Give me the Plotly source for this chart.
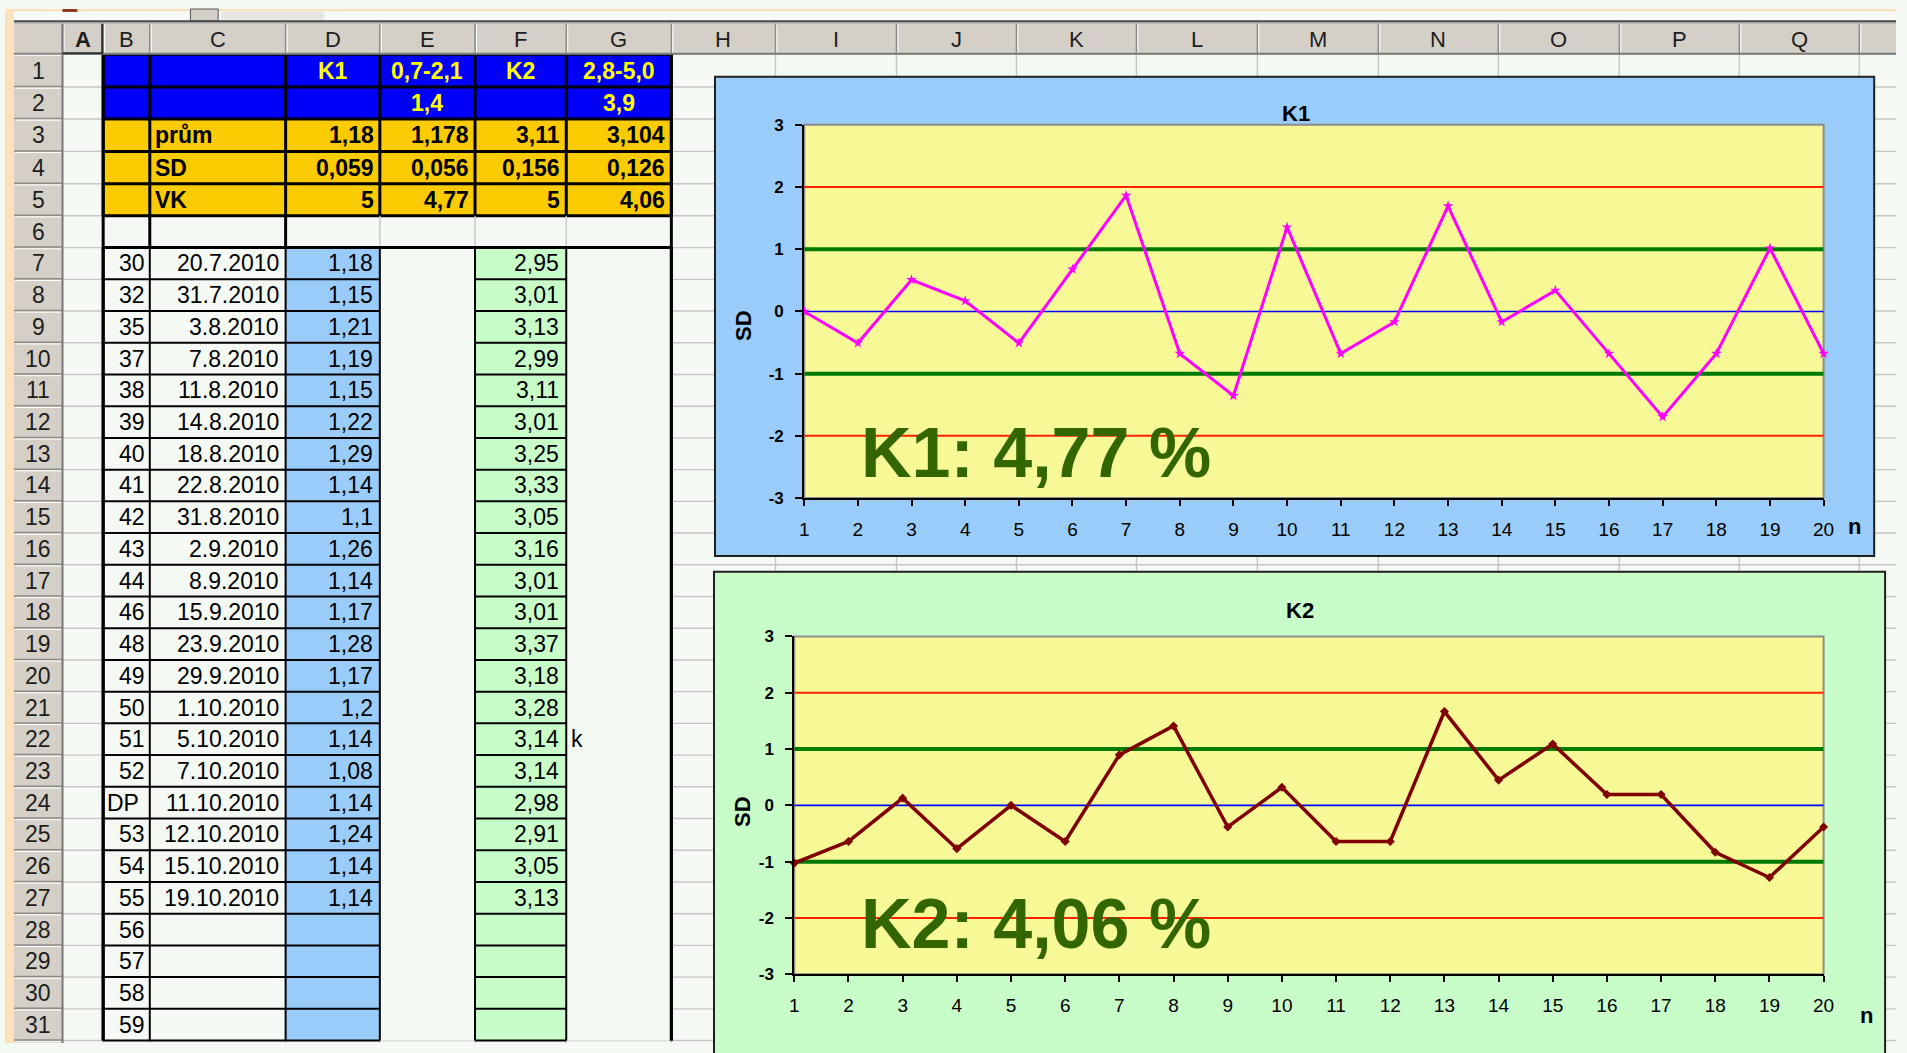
import plotly.graph_objects as go

W, H = 1907, 1053

# ---------------- data ----------------
COLUMN_LETTERS = ["A", "B", "C", "D", "E", "F", "G", "H", "I", "J",
                  "K", "L", "M", "N", "O", "P", "Q", "R"]
HEADER_ROW1 = ["", "", "K1", "0,7-2,1", "K2", "2,8-5,0"]   # columns B..G
HEADER_ROW2 = ["", "", "", "1,4", "", "3,9"]
STAT_LABELS = ["prům", "SD", "VK"]
K1_TARGET = [1.18, 0.059, 5]
K1_ACTUAL = [1.178, 0.056, 4.77]
K2_TARGET = [3.11, 0.156, 5]
K2_ACTUAL = [3.104, 0.126, 4.06]

SAMPLE_IDS = ["30", "32", "35", "37", "38", "39", "40", "41", "42", "43", "44",
              "46", "48", "49", "50", "51", "52", "DP", "53", "54", "55",
              "56", "57", "58", "59"]
DATES = ["20.7.2010", "31.7.2010", "3.8.2010", "7.8.2010", "11.8.2010",
         "14.8.2010", "18.8.2010", "22.8.2010", "31.8.2010", "2.9.2010",
         "8.9.2010", "15.9.2010", "23.9.2010", "29.9.2010", "1.10.2010",
         "5.10.2010", "7.10.2010", "11.10.2010", "12.10.2010", "15.10.2010",
         "19.10.2010"]
K1_VALUES = [1.18, 1.15, 1.21, 1.19, 1.15, 1.22, 1.29, 1.14, 1.1, 1.26, 1.14,
             1.17, 1.28, 1.17, 1.2, 1.14, 1.08, 1.14, 1.24, 1.14, 1.14]
K2_VALUES = [2.95, 3.01, 3.13, 2.99, 3.11, 3.01, 3.25, 3.33, 3.05, 3.16, 3.01,
             3.01, 3.37, 3.18, 3.28, 3.14, 3.14, 2.98, 2.91, 3.05, 3.13]
NOTE_ROW22 = "k"

N_PLOTTED = 20
SD_LEVELS = [2, 1, 0, -1, -2]
Y_TICKS = [-3, -2, -1, 0, 1, 2, 3]


def fmt(v):
    return f"{v:g}".replace(".", ",")


n = list(range(1, N_PLOTTED + 1))
k1_sd = [(v - K1_TARGET[0]) / K1_TARGET[1] for v in K1_VALUES[:N_PLOTTED]]
k2_sd = [(v - K2_TARGET[0]) / K2_TARGET[1] for v in K2_VALUES[:N_PLOTTED]]

# ---------------- sheet geometry (pixels) ----------------
COL_EDGES = [58, 99, 146, 283, 378, 474, 566, 672, 777, 899, 1020, 1141,
             1263, 1385, 1506, 1628, 1749, 1870, 1992]
ROW_EDGES = [46, 79.5, 112, 145, 178, 210.5, 243] + [243 + 32.3 * k for k in range(1, 26)]

SHEET_BG = "#F5F9F3"
HEAD_GRAY = "#D4D0C8"
PEACH = "#FBE2BA"
BLUE_CELL = "#99CCF9"
GREEN_CELL = "#C8FCC8"
GOLD = "#FACB00"
ROYAL = "#0000F8"
PLOT_YELLOW = "#F7F997"
SHEET_FONT = "Liberation Sans, Arial, sans-serif"
HEAD_FONT = "Liberation Sans Narrow, Liberation Sans, Arial, sans-serif"


def X(p):
    return p / W


def Y(p):
    return 1 - p / H


shapes = []
annots = []


def box(x0, y0, x1, y1, fill, lc=None, lw=0):
    shapes.append(dict(type="rect", xref="paper", yref="paper",
                       x0=X(x0), x1=X(x1), y0=Y(y1), y1=Y(y0),
                       fillcolor=fill, line=dict(color=lc or fill, width=lw),
                       layer="below"))


def seg(x0, y0, x1, y1, color, width):
    shapes.append(dict(type="line", xref="paper", yref="paper",
                       x0=X(x0), x1=X(x1), y0=Y(y0), y1=Y(y1),
                       line=dict(color=color, width=width), layer="below"))


def label(x, y, s, size, color="#000000", bold=False, anchor="center",
          family=SHEET_FONT, angle=0):
    annots.append(dict(xref="paper", yref="paper", x=X(x), y=Y(y),
                       text=f"<b>{s}</b>" if bold else s, showarrow=False,
                       xanchor=anchor, yanchor="middle", textangle=angle,
                       borderpad=0,
                       font=dict(family=family, size=size, color=color)))


def row_mid(r):
    return (ROW_EDGES[r - 1] + ROW_EDGES[r]) / 2


def col_left(c):
    return COL_EDGES[c]


def col_right(c):
    return COL_EDGES[c + 1]


# sheet gridlines
for xe in COL_EDGES:
    seg(xe, 46, xe, H, "#C6C6C6", 1.4)
for ye in ROW_EDGES:
    seg(58, ye, W, ye, "#C6C6C6", 1.4)

# ---- coloured table block B..G ----
B_L, G_R = COL_EDGES[1], COL_EDGES[7]
box(B_L, ROW_EDGES[0], G_R, ROW_EDGES[2], ROYAL)
box(B_L, ROW_EDGES[2], G_R, ROW_EDGES[5], GOLD)
box(B_L, ROW_EDGES[5], G_R, ROW_EDGES[6], SHEET_BG)
last = ROW_EDGES[-1]
box(col_left(1), ROW_EDGES[6], col_right(2), last, SHEET_BG)
box(col_left(3), ROW_EDGES[6], col_right(3), last, BLUE_CELL)
box(col_left(4), ROW_EDGES[6], col_right(4), last, SHEET_BG)
box(col_left(5), ROW_EDGES[6], col_right(5), last, GREEN_CELL)
box(col_left(6), ROW_EDGES[6], col_right(6), last, SHEET_BG)

# borders rows 1-5
for r in range(0, 6):
    seg(B_L, ROW_EDGES[r], G_R, ROW_EDGES[r], "#000000", 3)
for c in range(1, 8):
    seg(COL_EDGES[c], ROW_EDGES[0], COL_EDGES[c], ROW_EDGES[5], "#000000", 3)
# row 6
for c in (4, 5, 6):
    seg(COL_EDGES[c], ROW_EDGES[5], COL_EDGES[c], ROW_EDGES[6], "#C6C6C6", 1.4)
for c in (2, 3):
    seg(COL_EDGES[c], ROW_EDGES[5], COL_EDGES[c], ROW_EDGES[6], "#000000", 3)
seg(B_L, ROW_EDGES[6], G_R, ROW_EDGES[6], "#000000", 3)
# data rows
for r in range(7, 32):
    ye = ROW_EDGES[r]
    seg(col_left(1), ye, col_right(3), ye, "#000000", 2)
    seg(col_left(5), ye, col_right(5), ye, "#000000", 2)
for c, wdt in ((1, 3), (2, 2), (3, 2), (4, 2), (5, 2), (6, 2), (7, 3)):
    seg(COL_EDGES[c], ROW_EDGES[6], COL_EDGES[c], last, "#000000", wdt)
seg(B_L, ROW_EDGES[0], B_L, last, "#000000", 3)
seg(G_R, ROW_EDGES[0], G_R, last, "#000000", 3)

# ---- window chrome and headers ----
box(0, 0, W, 2.5, PEACH)
box(9, 2.5, W, 11.5, "#F8FAF6")
box(187, 0, 215, 12, HEAD_GRAY, "#555555", 1)
box(218, 2.5, 322, 11, "#E6E6E1")
box(58, 0, 73, 3, "#8B3A1A")
box(9, 11.5, W, 13.2, "#4A4A4A")
box(9, 13.2, W, 15, "#A0A0A0")
box(9, 15, W, 46, HEAD_GRAY)
box(9, 46, 58, H, HEAD_GRAY)
for xe in COL_EDGES:
    seg(xe, 15, xe, 46, "#8A8A8A", 1.5)
    seg(xe + 1.5, 16, xe + 1.5, 45, "#FFFFFF", 1)
seg(9, 45.5, W, 45.5, "#7A7A7A", 2)
for ye in ROW_EDGES:
    seg(9, ye - 0.5, 58, ye - 0.5, "#8A8A8A", 1.5)
    seg(10, ye + 1.2, 57, ye + 1.2, "#FFFFFF", 1)
seg(58, 15, 58, H, "#7A7A7A", 2)
seg(col_left(0), 45, col_right(0), 45, "#303030", 2)
seg(col_right(0) - 1, 15, col_right(0) - 1, 46, "#303030", 2)
box(0, 0, 9, H, PEACH)

# column letters and row numbers
for i, letter in enumerate(COLUMN_LETTERS):
    cx = (COL_EDGES[i] + COL_EDGES[i + 1]) / 2
    if cx < W:
        label(cx, 31, letter, 22, "#1E1E1E", bold=(letter == "A"), family=HEAD_FONT)
for r in range(1, 32):
    label(33.5, row_mid(r), str(r), 23, "#1E1E1E", family=HEAD_FONT)

# rows 1-2 (blue)
for j, (t1, t2) in enumerate(zip(HEADER_ROW1, HEADER_ROW2)):
    c = j + 1
    cx = (col_left(c) + col_right(c)) / 2
    if t1:
        label(cx, row_mid(1), t1, 23, "#FFFF00", bold=True)
    if t2:
        label(cx, row_mid(2), t2, 23, "#FFFF00", bold=True)

# rows 3-5 (gold)
for i, name in enumerate(STAT_LABELS):
    r = 3 + i
    label(col_left(2) + 4, row_mid(r), name, 23, bold=True, anchor="left")
    for c, arr in ((3, K1_TARGET), (4, K1_ACTUAL), (5, K2_TARGET), (6, K2_ACTUAL)):
        label(col_right(c) - 5, row_mid(r), fmt(arr[i]), 23, bold=True, anchor="right")

# data rows
for i, sid in enumerate(SAMPLE_IDS):
    r = 7 + i
    if sid.isdigit():
        label(col_right(1) - 4, row_mid(r), sid, 23, anchor="right")
    else:
        label(col_left(1) + 3, row_mid(r), sid, 23, anchor="left")
for i, d in enumerate(DATES):
    label(col_right(2) - 6, row_mid(7 + i), d, 23, anchor="right")
for i, v in enumerate(K1_VALUES):
    label(col_right(3) - 6, row_mid(7 + i), fmt(v), 23, anchor="right")
for i, v in enumerate(K2_VALUES):
    label(col_right(5) - 6, row_mid(7 + i), fmt(v), 23, anchor="right")
label(col_left(6) + 4, row_mid(22), NOTE_ROW22, 23, anchor="left")

# ---------------- charts ----------------
CHARTS = [
    dict(name="K1", xa="x", ya="y", frame=(716, 69, 1885, 557), frame_fill=BLUE_CELL,
         plot=(806, 118, 1834, 498), title_xy=(1302, 106), sd_xy=(744, 322),
         n_xy=(1865, 527), big_xy=(862, 452), sd=k1_sd, color="#FF00FF",
         width=3, symbol="star", msize=8, vk=K1_ACTUAL[2]),
    dict(name="K2", xa="x2", ya="y2", frame=(715, 573, 1896, 1075), frame_fill=GREEN_CELL,
         plot=(796, 639, 1834, 983), title_xy=(1306, 613), sd_xy=(743, 817),
         n_xy=(1877, 1025), big_xy=(862, 932), sd=k2_sd, color="#800000",
         width=3.5, symbol="diamond", msize=7, vk=K2_ACTUAL[2]),
]

LEVEL_STYLE = {2: ("#FF2000", 2), 1: ("#007A00", 4), 0: ("#0000FF", 1.6),
               -1: ("#007A00", 4), -2: ("#FF2000", 2)}

fig = go.Figure()
layout_axes = {}
for k, ch in enumerate(CHARTS):
    fx0, fy0, fx1, fy1 = ch["frame"]
    box(fx0, fy0, fx1, fy1, ch["frame_fill"], "#202020", 2)
    px0, py0, px1, py1 = ch["plot"]
    box(px0, py0, px1, py1, PLOT_YELLOW, "#8C8C8C", 2)

    for lvl in SD_LEVELS:
        col, lw = LEVEL_STYLE[lvl]
        fig.add_trace(go.Scatter(x=[n[0], n[-1]], y=[lvl, lvl], mode="lines",
                                 line=dict(color=col, width=lw),
                                 xaxis=ch["xa"], yaxis=ch["ya"], hoverinfo="skip",
                                 showlegend=False))
    fig.add_trace(go.Scatter(x=n, y=ch["sd"], mode="lines+markers",
                             line=dict(color=ch["color"], width=ch["width"]),
                             marker=dict(symbol=ch["symbol"], size=ch["msize"],
                                         color=ch["color"]),
                             cliponaxis=False, name=ch["name"],
                             xaxis=ch["xa"], yaxis=ch["ya"], showlegend=False))

    suffix = "" if k == 0 else str(k + 1)
    layout_axes["xaxis" + suffix] = dict(
        domain=[X(px0), X(px1)], range=[1, N_PLOTTED], anchor="y" + suffix,
        tickmode="array", tickvals=n, ticktext=[str(v) for v in n],
        showline=True, linecolor="#000000", linewidth=2, ticks="outside",
        ticklen=6, tickwidth=1.5, tickcolor="#000000", showgrid=False,
        zeroline=False, fixedrange=True, ticklabelstandoff=7,
        tickfont=dict(family=SHEET_FONT, size=19, color="#000000"))
    layout_axes["yaxis" + suffix] = dict(
        domain=[Y(py1), Y(py0)], range=[-3, 3], anchor="x" + suffix,
        tickmode="array", tickvals=Y_TICKS, ticktext=[str(v) for v in Y_TICKS],
        showline=True, linecolor="#000000", linewidth=2, ticks="outside",
        ticklen=7, tickwidth=1.5, tickcolor="#000000", showgrid=False,
        zeroline=False, fixedrange=True, ticklabelstandoff=8,
        tickfont=dict(family=SHEET_FONT, size=17, color="#000000", weight="bold"))

    label(*ch["title_xy"], ch["name"], 22, bold=True)
    label(*ch["sd_xy"], "SD", 22, bold=True, angle=-90)
    label(*ch["n_xy"], "n", 22, bold=True)
    label(*ch["big_xy"], f"{ch['name']}: {fmt(ch['vk'])} %", 70, "#336600",
          bold=True, anchor="left")

fig.update_layout(
    width=W, height=H,
    margin=dict(l=0, r=0, t=0, b=0, pad=0),
    paper_bgcolor=SHEET_BG, plot_bgcolor="rgba(0,0,0,0)",
    showlegend=False, hovermode=False,
    shapes=shapes, annotations=annots,
    **layout_axes,
)

fig.write_html("out.html", config={"displayModeBar": False})
